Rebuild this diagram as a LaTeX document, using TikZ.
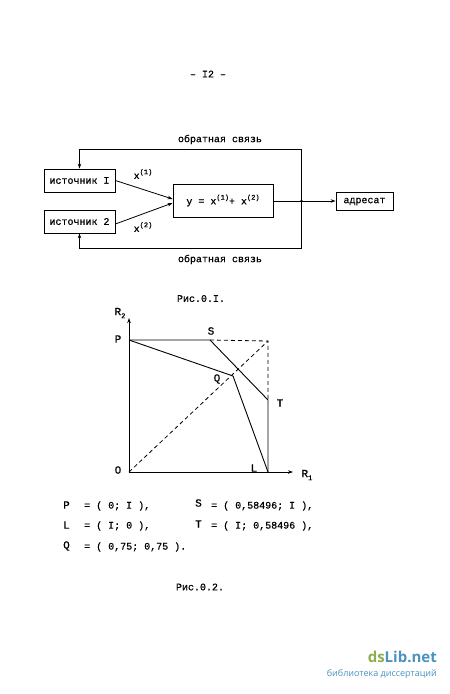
\documentclass[tikz,border=0pt]{standalone}
\usepackage{fontspec}
\setmainfont{Liberation Mono}[RawFeature={embolden=0.6}]
\newfontfamily\wmfont{Open Sans}
\usetikzlibrary{arrows.meta}
\definecolor{wmgreen}{HTML}{8AAE4A}
\definecolor{wmblue}{HTML}{4A92C2}
\newcommand\supx[1]{\raisebox{0.9ex}{\fontsize{7}{7}\selectfont #1}}
\newcommand\subx[1]{\raisebox{-0.5ex}{\fontsize{7}{7}\selectfont #1}}
\begin{document}
\begin{tikzpicture}[x=1pt,y=-1pt,
  box/.style={draw, line width=0.8pt, inner sep=2pt, font=\fontsize{10}{12}\selectfont},
  lbl/.style={font=\fontsize{10}{12}\selectfont, inner sep=0pt},
  pt/.style={font=\fontsize{11}{12}\selectfont, inner sep=0pt},
  con/.style={line width=0.8pt, -{Stealth[length=5pt,width=3.5pt]}},
  ln/.style={line width=0.9pt},
  dsh/.style={line width=0.8pt, dash pattern=on 4pt off 3pt}]
\useasboundingbox (0,0) rectangle (450,694);
\fill[white] (0,0) rectangle (450,694);

\node[lbl] (page) at (208,74) {– I2 –};

% --- figure 0.1 ---
\node[box, minimum width=71pt, minimum height=23pt] (s1) at (79.5,180.5) {источник I};
\node[box, minimum width=71pt, minimum height=23pt] (s2) at (79.5,221.5) {источник 2};
\node[box, minimum width=100pt, minimum height=33pt] (sum) at (223,200.5)
  {y = x\supx{(1)}+ x\supx{(2)}};
\node[box, minimum width=57pt, minimum height=18pt] (dest) at (364.5,201.5) {адресат};

\coordinate (j) at (301.5,201);
\coordinate (tr) at (301.5,149);
\coordinate (br) at (301.5,248);

\draw[con] (s1.east) -- ([yshift=1.5pt]sum.west);
\draw[con] ([yshift=-2.5pt]s2.east) -- ([yshift=-2.5pt]sum.west);
\draw[con] (sum.east |- j) -- (dest.west |- j);
\fill (j) circle (1.3pt);
\draw[con] (j) -- (tr) -| (s1.north);
\draw[con] (j) -- (br) -| (s2.south);

\node[lbl] (x1) at (143,174) {x\supx{(1)}};
\node[lbl] (x2) at (143,227) {x\supx{(2)}};
\node[lbl] (fbt) at (220,139.5) {обратная связь};
\node[lbl] (fbb) at (220,259.5) {обратная связь};
\node[lbl] (cap1) at (201,298.5) {Рис.0.I.};

% --- figure 0.2 ---
\coordinate (O) at (129,472);
\coordinate (P) at (129,340);
\coordinate (S) at (210,340);
\coordinate (C) at (268,341);
\coordinate (T) at (268,400);
\coordinate (Q) at (233,376);
\coordinate (L) at (268,472);
\coordinate (xe) at (293,472);
\coordinate (ye) at (129,318);

\draw[con] (O) -- (xe);
\draw[con] (O) -- (ye);
\draw[ln] (P) -- (S) -- (T) -- (L);
\draw[ln] (P) -- (Q) -- (L);
\draw[dsh] (S) -- (C) -- (T);
\draw[dsh] (O) -- (C);

\node[pt] (lR2) at (120,313) {R\subx{2}};
\node[pt] (lR1) at (307,475) {R\subx{1}};
\node[pt] (lP) at (118,339) {P};
\node[pt] (lS) at (211,331) {S};
\node[pt] (lQ) at (217,379) {Q};
\node[pt] (lT) at (280,403) {T};
\node[pt] (lL) at (254,468) {L};
\node[pt] (lO) at (118,470) {O};

\node[pt, anchor=west] (eP) at (63,505) {P};
\node[lbl, anchor=west] (eP2) at (84,506) {= ( 0; I ),};
\node[pt, anchor=west] (eS) at (195,503) {S};
\node[lbl, anchor=west] (eS2) at (211,506) {= ( 0,58496; I ),};
\node[pt, anchor=west] (eL) at (63,525) {L};
\node[lbl, anchor=west] (eL2) at (84,526) {= ( I; 0 ),};
\node[pt, anchor=west] (eT) at (195,524) {T};
\node[lbl, anchor=west] (eT2) at (211,526) {= ( I; 0,58496 ),};
\node[pt, anchor=west] (eQ) at (63,546) {Q};
\node[lbl, anchor=west] (eQ2) at (84,547) {= ( 0,75; 0,75 ).};
\node[lbl] (cap2) at (200,587) {Рис.0.2.};

% --- watermark ---
\node[inner sep=0pt, anchor=east, font=\wmfont\bfseries\fontsize{15}{16}\selectfont]
  (wm1) at (437,657) {\textcolor{wmgreen}{ds}\textcolor{wmblue}{Lib.net}};
\node[inner sep=0pt, anchor=east, text=wmblue, font=\wmfont\fontsize{9}{10}\selectfont]
  (wm2) at (437,674) {библиотека диссертаций};
\end{tikzpicture}
\end{document}
